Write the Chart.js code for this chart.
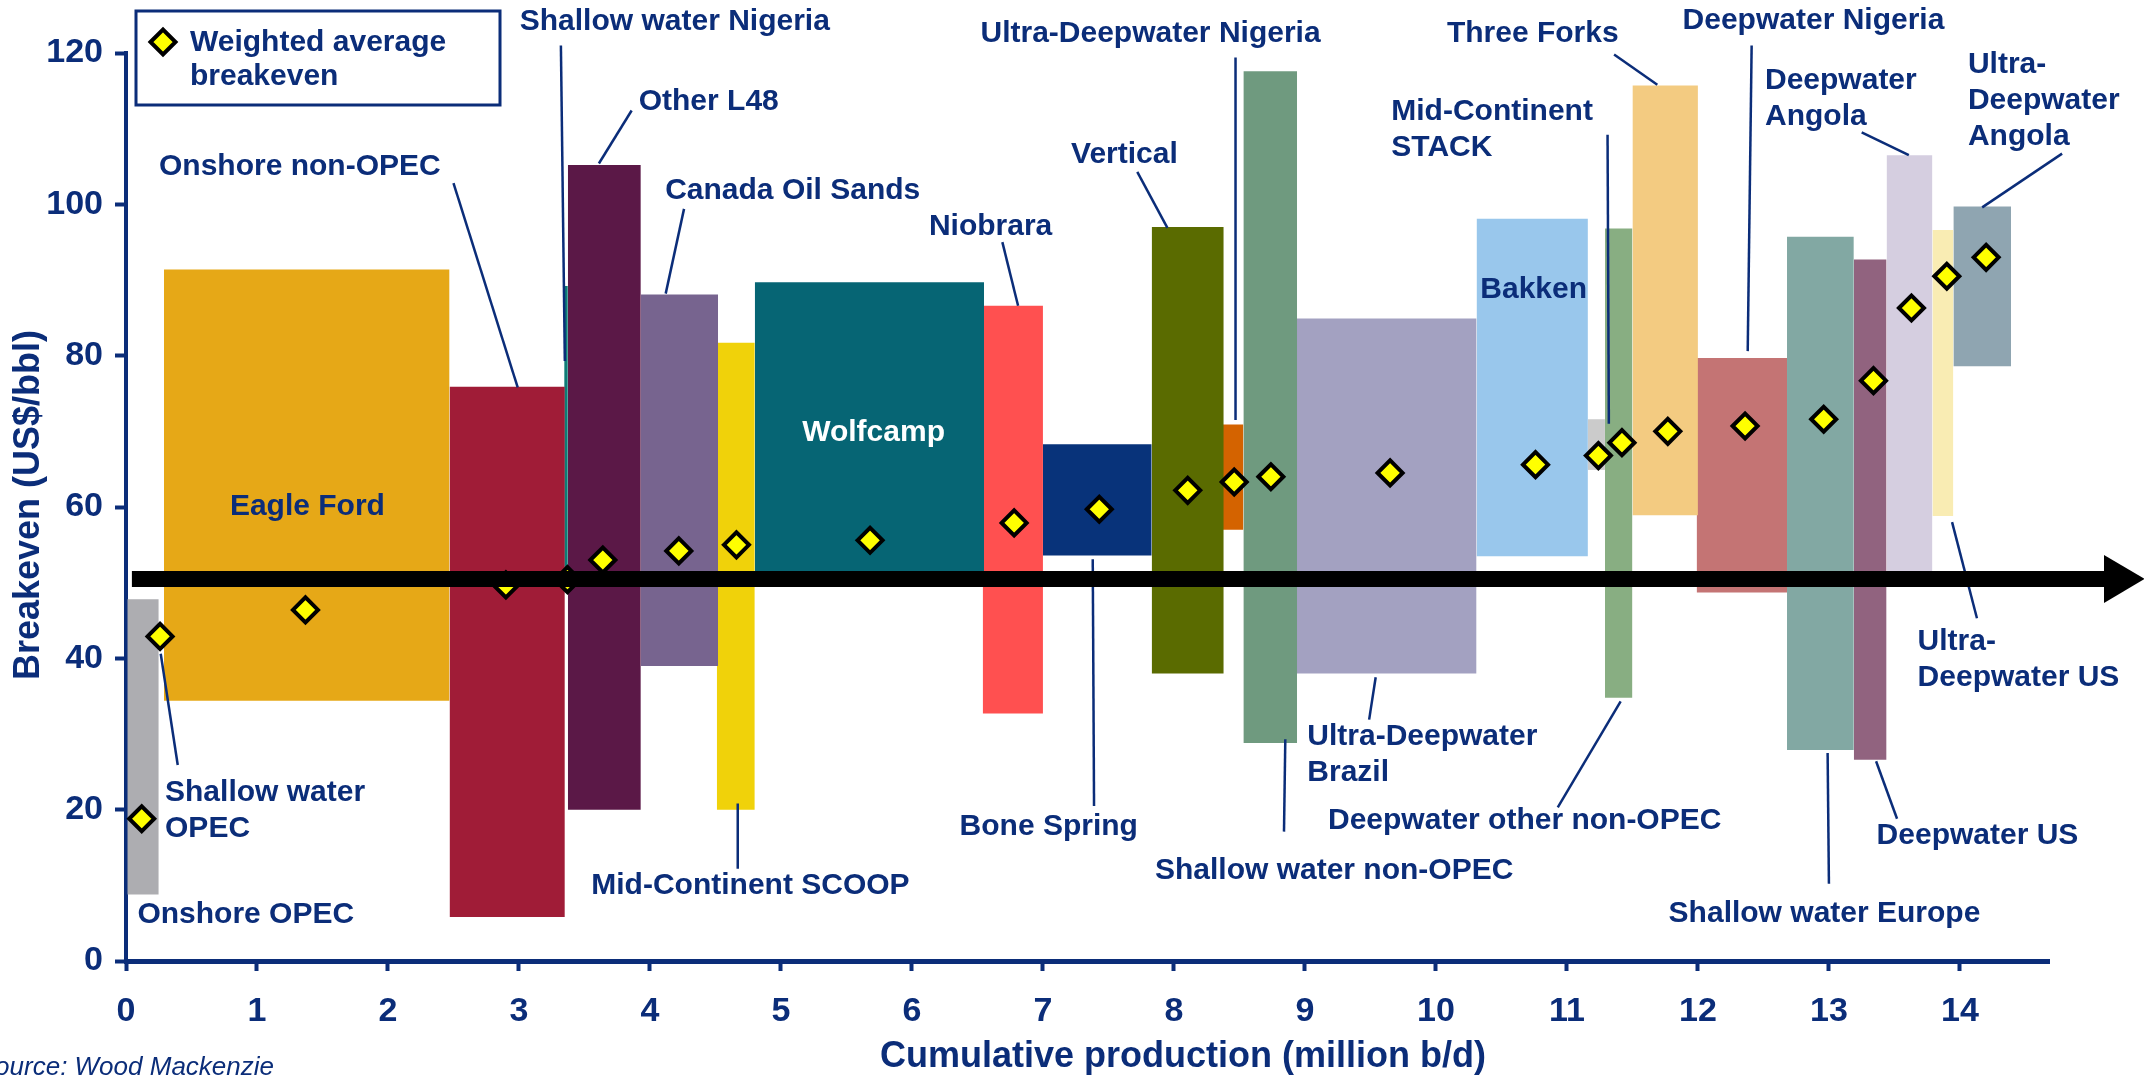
<!DOCTYPE html>
<html><head><meta charset="utf-8">
<script src="https://cdn.jsdelivr.net/npm/chart.js@4.4.1/dist/chart.umd.min.js"></script>
<style>html,body{margin:0;padding:0;background:#fff;overflow:hidden}canvas{display:block}</style>
</head><body>
<canvas id="c" width="2144" height="1077"></canvas>
<script>
// ---------- DATA ----------
const barNames = ['Onshore OPEC','Eagle Ford','Onshore non-OPEC','Shallow water Nigeria','Other L48','Canada Oil Sands',
  'Mid-Continent SCOOP','Wolfcamp','Niobrara','Bone Spring','Vertical','Ultra-Deepwater Nigeria','Shallow water non-OPEC',
  'Ultra-Deepwater Brazil','Bakken','Mid-Continent STACK','Deepwater other non-OPEC','Three Forks','Deepwater Nigeria',
  'Shallow water Europe','Deepwater US','Deepwater Angola','Ultra-Deepwater US','Ultra-Deepwater Angola'];
const barStart = [0.01,0.29,2.47,3.345,3.373,3.93,4.51,4.80,6.54,7.00,7.83,8.37,8.53,8.93,10.31,11.16,11.29,11.50,11.99,12.68,13.19,13.44,13.79,13.95];
const barEnd   = [0.25,2.47,3.35,3.373,3.93,4.52,4.80,6.55,7.00,7.83,8.38,8.53,8.94,10.31,11.16,11.29,11.50,12.00,12.68,13.19,13.44,13.79,13.95,14.39];
const barLow   = [8.8,34.4,5.8,50,20,39,20,51.5,32.7,53.6,38.0,57,28.8,38.0,53.5,64.9,34.8,58.9,48.7,27.9,26.6,51,58.8,78.6];
const barHigh  = [47.8,91.4,75.9,89.2,105.2,88.1,81.7,89.7,86.6,68.3,97.0,70.9,117.6,84.9,98.1,71.6,96.8,115.7,79.7,95.7,92.7,106.5,96.6,99.7];
const barColors = ['#ADADB1','#E6A817','#A01C37','#0E7C76','#5B1847','#77648F','#F0D20A','#066574','#FF5050','#08337A',
  '#5A6B00','#D46300','#6F9A7F','#A3A1C1','#99C7EC','#CBCBCB','#88AE82','#F3CB81','#C47474','#82A8A3','#91637F',
  '#D5CEE0','#F9ECB3','#8FA5B1'];

const avgX = [0.12,0.26,1.37,2.90,3.37,3.64,4.22,4.66,5.68,6.78,7.43,8.105,8.46,8.74,9.65,10.76,11.24,11.42,11.77,12.36,12.96,13.34,13.63,13.90,14.20];
const avgY = [18.8,42.9,46.4,49.7,50.4,53.0,54.2,55.0,55.6,57.9,59.7,62.2,63.3,64.0,64.5,65.6,66.8,68.5,70.0,70.7,71.6,76.7,86.3,90.5,93.0];

const xTickValues = [0,1,2,3,4,5,6,7,8,9,10,11,12,13,14];
const yTickValues = [0,20,40,60,80,100,120];
const xAxisMax = 14.68;

const arrowLevel = 50.5;
const arrowStart = 0.045;
const arrowEnd = 15.10;
const arrowTip = 15.41;

// text labels: lines, x, y (data units, centre of first line), align
const labelTexts = [
  ['Shallow water Nigeria'],['Other L48'],['Onshore non-OPEC'],['Canada Oil Sands'],['Eagle Ford'],['Wolfcamp'],
  ['Niobrara'],['Vertical'],['Ultra-Deepwater Nigeria'],['Mid-Continent','STACK'],['Three Forks'],['Deepwater Nigeria'],
  ['Deepwater','Angola'],['Ultra-','Deepwater','Angola'],['Bakken'],['Shallow water','OPEC'],['Onshore OPEC'],
  ['Mid-Continent SCOOP'],['Bone Spring'],['Ultra-Deepwater','Brazil'],['Deepwater other non-OPEC'],
  ['Shallow water non-OPEC'],['Shallow water Europe'],['Deepwater US'],['Ultra-','Deepwater US']];
const labelX = [3.006,3.914,0.252,4.116,1.385,5.707,6.60,7.622,6.523,9.659,10.739,12.882,12.512,14.061,10.746,0.298,0.087,3.552,7.044,9.018,9.176,7.855,12.966,14.134,13.677];
const labelY = [124.1,113.6,105.0,101.8,60.0,69.8,97.1,106.6,122.6,112.2,122.6,124.2,116.3,118.5,88.7,22.3,6.1,9.9,17.7,29.7,18.5,11.9,6.3,16.5,42.2];
const labelAlign = ['left','left','left','left','center','center','center','center','left','left','center','center','left','left','center','left','left','left','center','left','left','left','center','center','left'];

// leader lines: [x1,y1,x2,y2]
const leaderX1 = [3.32,3.86,2.50,4.26,6.69,7.72,8.47,11.31,11.36,12.41,13.25,14.78,0.265,4.67,7.38,9.54,11.41,8.85,12.99,13.36,13.94];
const leaderY1 = [121,112.4,102.8,99.4,95.0,104.3,119.4,109.2,119.8,121.0,109.5,106.7,40.6,20.8,53.1,37.5,34.3,29.3,27.5,26.4,58.0];
const leaderX2 = [3.35,3.61,2.99,4.12,6.81,7.95,8.47,11.32,11.69,12.38,13.61,14.17,0.395,4.67,7.39,9.49,10.93,8.84,13.0,13.52,14.13];
const leaderY2 = [79.3,105.4,75.8,88.2,86.6,96.9,71.5,71.0,115.8,80.6,106.5,99.6,25.9,12.2,20.5,31.9,20.3,17.1,10.2,18.8,45.3];

// ---------- STYLE ----------
const NAVY = '#0B2D79';
const FONT = '"Liberation Sans", Arial, Helvetica, sans-serif';
Chart.defaults.font.family = FONT;

const datasets = [];
// arrow (top)
datasets.push({
  label: 'arrow', data: [{x: arrowStart, y: arrowLevel}, {x: arrowEnd, y: arrowLevel}],
  borderColor: '#000', borderWidth: 16, borderCapStyle: 'butt', pointRadius: 0, fill: false, clip: false, order: 0
});
// weighted averages
datasets.push({
  label: 'Weighted average breakeven', data: avgX.map((v, i) => ({x: v, y: avgY[i]})),
  showLine: false, pointStyle: 'rectRot', pointRadius: 12.5, pointBorderWidth: 4,
  pointBackgroundColor: '#FFFF00', pointBorderColor: '#000', clip: false, order: 1
});
// leader lines
leaderX1.forEach((v, i) => datasets.push({
  label: 'leader' + i, data: [{x: v, y: leaderY1[i]}, {x: leaderX2[i], y: leaderY2[i]}],
  borderColor: NAVY, borderWidth: 2.5, pointRadius: 0, fill: false, clip: false, order: 2
}));
// supply bars
barNames.forEach((n, i) => datasets.push({
  label: n, data: [{x: barStart[i], y: barHigh[i]}, {x: barEnd[i], y: barHigh[i]}],
  borderColor: 'rgba(0,0,0,0)', borderWidth: 1, backgroundColor: barColors[i],
  fill: {value: barLow[i]}, pointRadius: 0, order: 3
}));

const overlay = {
  id: 'overlay',
  afterDatasetsDraw(chart) {
    const {ctx, scales: {x, y}, chartArea} = chart;
    ctx.save();
    // arrow head
    const am = chart.getDatasetMeta(0).data;
    const bx = am[1].x, by = am[1].y;
    const tx = x.getPixelForValue(arrowTip);
    ctx.fillStyle = '#000';
    ctx.beginPath();
    ctx.moveTo(bx, by - 24); ctx.lineTo(tx, by); ctx.lineTo(bx, by + 24); ctx.closePath(); ctx.fill();

    // labels
    ctx.font = 'bold 30px ' + FONT;
    ctx.textBaseline = 'middle';
    labelTexts.forEach((lines, i) => {
      ctx.fillStyle = lines[0] === 'Wolfcamp' ? '#FFFFFF' : NAVY;
      ctx.textAlign = labelAlign[i];
      const px = x.getPixelForValue(labelX[i]);
      const py = y.getPixelForValue(labelY[i]);
      lines.forEach((t, k) => ctx.fillText(t, px, py + k * 36));
    });

    // legend box
    const lx = chartArea.left + 10, ly = 11;
    ctx.lineWidth = 3; ctx.strokeStyle = NAVY;
    ctx.strokeRect(lx, ly, 364, 94);
    const dx = lx + 27, dy = ly + 31, r = 12.5;
    ctx.beginPath();
    ctx.moveTo(dx - r, dy); ctx.lineTo(dx, dy - r); ctx.lineTo(dx + r, dy); ctx.lineTo(dx, dy + r); ctx.closePath();
    ctx.fillStyle = '#FFFF00'; ctx.fill();
    ctx.lineWidth = 4; ctx.strokeStyle = '#000'; ctx.stroke();
    ctx.fillStyle = NAVY; ctx.textAlign = 'left';
    ctx.fillText('Weighted average', lx + 54, ly + 32);
    ctx.fillText('breakeven', lx + 54, ly + 66);

    // axis titles
    ctx.font = 'bold 36px ' + FONT;
    ctx.textAlign = 'center';
    ctx.fillText('Cumulative production (million b/d)', 1183, 1057);
    ctx.save();
    ctx.translate(29, 505); ctx.rotate(-Math.PI / 2);
    ctx.fillText('Breakeven (US$/bbl)', 0, 0);
    ctx.restore();

    // source
    ctx.font = 'italic 26px ' + FONT;
    ctx.textAlign = 'right'; ctx.textBaseline = 'alphabetic';
    ctx.fillText('Source: Wood Mackenzie', 274, 1075);
    ctx.restore();
  }
};

new Chart(document.getElementById('c'), {
  type: 'line',
  data: {datasets},
  plugins: [overlay],
  options: {
    responsive: false, animation: false, devicePixelRatio: 1,
    layout: {padding: {left: 0, top: 53, right: 95, bottom: 0}},
    plugins: {legend: {display: false}, tooltip: {enabled: false}},
    scales: {
      x: {
        type: 'linear', min: 0, max: xAxisMax,
        afterFit(s) { s.height = 116; },
        afterBuildTicks(s) { s.ticks = xTickValues.map(v => ({value: v})); },
        border: {display: true, color: NAVY, width: 5},
        grid: {drawOnChartArea: false, drawTicks: true, tickLength: 10, tickWidth: 4, tickColor: NAVY},
        ticks: {color: NAVY, font: {size: 34, weight: 'bold'}, padding: 20, maxRotation: 0, autoSkip: false}
      },
      y: {
        type: 'linear', min: 0, max: 120,
        afterFit(s) { s.width = 126; },
        afterBuildTicks(s) { s.ticks = yTickValues.map(v => ({value: v})); },
        border: {display: true, color: NAVY, width: 4},
        grid: {drawOnChartArea: false, drawTicks: true, tickLength: 11, tickWidth: 4, tickColor: NAVY},
        ticks: {color: NAVY, font: {size: 34, weight: 'bold'}, padding: 12}
      }
    }
  }
});
</script>
</body></html>
